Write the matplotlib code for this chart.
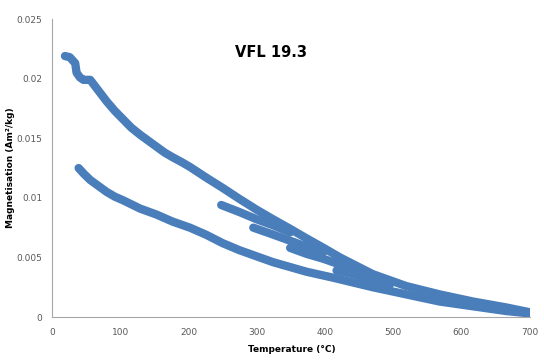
import matplotlib.pyplot as plt

# heating run from room temperature up to 700 C
heat_t = [19, 26, 34, 36, 41, 46, 56, 68, 80, 92, 104, 116, 129, 141, 153, 165, 177, 190,
          202, 226, 251, 275, 300, 324, 349, 373, 398, 422, 446, 470, 519, 568, 617, 666, 700]
heat_m = [0.0219, 0.0218, 0.0213, 0.0205, 0.0201, 0.0199, 0.0199, 0.0190, 0.0181, 0.0173,
          0.0166, 0.0159, 0.0153, 0.0148, 0.0143, 0.0138, 0.0134, 0.0130, 0.0126, 0.0117,
          0.0108, 0.0099, 0.0090, 0.0082, 0.0074, 0.0066, 0.0058, 0.0050, 0.0043, 0.0036,
          0.0026, 0.0019, 0.0013, 0.0008, 0.0004]

# cooling run back down to room temperature
cool_t = [700, 666, 617, 568, 519, 470, 441, 412, 373, 324, 275, 250, 226, 202, 177, 153,
          129, 104, 92, 80, 68, 56, 47, 39]
cool_m = [0.0003, 0.0005, 0.0009, 0.0013, 0.0019, 0.0025, 0.0029, 0.0033, 0.0038, 0.0046,
          0.0056, 0.0062, 0.0069, 0.0075, 0.0080, 0.0086, 0.0091, 0.0098, 0.0101, 0.0105,
          0.0110, 0.0115, 0.0120, 0.0125]

# short partial steps that join the heating curve
step1_t = [248, 275, 300, 324, 349]
step1_m = [0.0094, 0.0088, 0.0082, 0.0077, 0.0071]
step2_t = [295, 320, 349, 373, 397]
step2_m = [0.0075, 0.0070, 0.0064, 0.0059, 0.0054]
step3_t = [349, 373, 397, 422, 446]
step3_m = [0.0058, 0.0053, 0.0049, 0.0044, 0.0039]
step4_t = [417, 441, 470, 495]
step4_m = [0.0039, 0.0036, 0.0031, 0.0027]

blue = '#4a7ebb'
grey = '#595959'

fig = plt.figure(figsize=(5.44, 3.6), dpi=100)
ax = fig.add_axes([0.0956, 0.1194, 0.878, 0.8276])

for t, m in [(heat_t, heat_m), (cool_t, cool_m), (step1_t, step1_m),
             (step2_t, step2_m), (step3_t, step3_m), (step4_t, step4_m)]:
    ax.plot(t, m, color=blue, linewidth=6, solid_capstyle='round', solid_joinstyle='round')

ax.set_xlim(0, 700)
ax.set_ylim(0, 0.025)
ax.set_xticks(range(0, 701, 100))
ax.set_yticks([0, 0.005, 0.01, 0.015, 0.02, 0.025])
ax.set_yticklabels(['0', '0.005', '0.01', '0.015', '0.02', '0.025'])
ax.tick_params(length=0, labelsize=6.5, labelcolor=grey, pad=8)
ax.tick_params(axis='y', pad=7)

for s in ['top', 'right']:
    ax.spines[s].set_visible(False)
for s in ['left', 'bottom']:
    ax.spines[s].set_color('#a6a6a6')
    ax.spines[s].set_linewidth(0.8)

ax.set_xlabel('Temperature (°C)', fontsize=6.5, fontweight='bold')
ax.set_ylabel('Magnetisation (Am²/kg)', fontsize=6.5, fontweight='bold')
ax.xaxis.set_label_coords(0.502, -0.094)
ax.yaxis.set_label_coords(-0.077, 0.5)
fig.text(0.498, 0.855, 'VFL 19.3', fontsize=10.5, fontweight='bold', ha='center', va='center')

fig.savefig('out.png', dpi=100)
